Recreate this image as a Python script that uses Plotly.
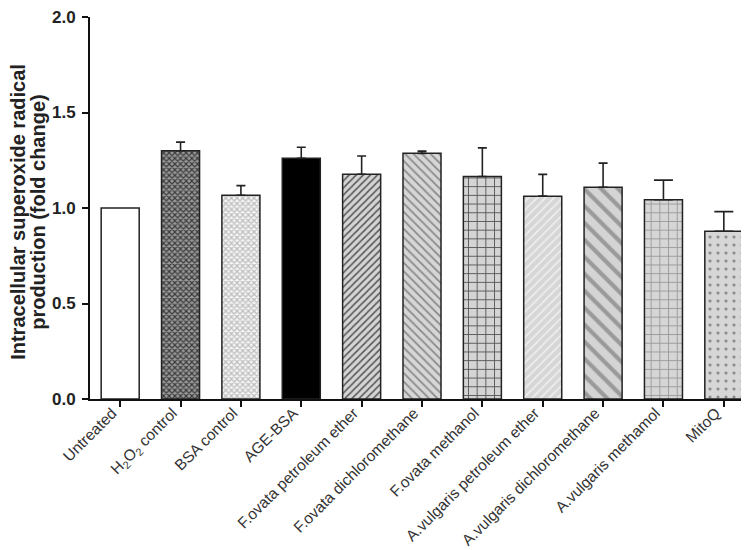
import plotly.graph_objects as go

categories = ["Untreated", "H<sub>2</sub>O<sub>2</sub> control", "BSA control", "AGE-BSA",
              "F.ovata petroleum ether", "F.ovata dichloromethane", "F.ovata methanol",
              "A.vulgaris petroleum ether", "A.vulgaris dichloromethane",
              "A.vulgaris methamol", "MitoQ"]
values = [1.00, 1.30, 1.067, 1.26, 1.177, 1.286, 1.165, 1.062, 1.109, 1.043, 0.878]
errors = [0.0, 0.045, 0.05, 0.058, 0.095, 0.012, 0.15, 0.114, 0.126, 0.103, 0.103]
y_title_lines = ["Intracellular superoxide radical", "production (fold change)"]

pat_shape = ["", "x", "x", "", "/", "\\", "+", "/", "\\", "+", "."]
pat_fg = ["#000000", "#3a3a3a", "#bdbdbd", "#000000", "#555555", "#8a8a8a",
          "#555555", "#eeeeee", "#9a9a9a", "#9a9a9a", "#8a8a8a"]
pat_bg = ["#ffffff", "#9a9a9a", "#f4f4f4", "#000000", "#d4d4d4", "#d6d6d6",
          "#d4d4d4", "#d6d6d6", "#d4d4d4", "#d6d6d6", "#d6d6d6"]
pat_size = [6, 4, 4, 6, 5, 6, 8.7, 6, 12, 8.7, 8]
pat_sol = [0.3, 0.5, 0.5, 0.3, 0.3, 0.3, 0.2, 0.3, 0.35, 0.2, 0.12]

x = list(range(len(categories)))

fig = go.Figure()
for i in x:
    pattern = dict(shape=pat_shape[i], fgcolor=pat_fg[i], bgcolor=pat_bg[i],
                   size=pat_size[i], solidity=pat_sol[i], fillmode="replace")
    fig.add_trace(go.Bar(
        x=[x[i]], y=[values[i]], width=0.63,
        marker=dict(color=pat_bg[i], line=dict(color="#222222", width=1.5),
                    pattern=pattern if pat_shape[i] else None),
        hoverinfo="skip", showlegend=False))

# error bars (upper only); narrower caps for first nine, wider for last two
for idx, w in [(list(range(0, 9)), 4.5), (list(range(9, 11)), 9.5)]:
    xs = [x[i] for i in idx if errors[i] > 0]
    ys = [values[i] for i in idx if errors[i] > 0]
    es = [errors[i] for i in idx if errors[i] > 0]
    fig.add_trace(go.Scatter(
        x=xs, y=ys, mode="markers",
        marker=dict(size=1, color="rgba(0,0,0,0)"),
        error_y=dict(type="data", array=es, arrayminus=[0] * len(es), symmetric=False,
                     color="#222222", thickness=1.6, width=w),
        hoverinfo="skip", showlegend=False))

# y-axis title as two rotated lines
for line, xs in zip(y_title_lines, [-72, -52]):
    fig.add_annotation(text=line, xref="paper", yref="paper", x=0, y=0.49,
                       xshift=xs, textangle=-90, showarrow=False,
                       xanchor="center", yanchor="middle", borderpad=0,
                       font=dict(size=20, color="#222222", weight="bold"))

fig.update_layout(
    width=749, height=550, barmode="overlay",
    margin=dict(l=82, r=3, t=9, b=159),
    plot_bgcolor="white", paper_bgcolor="white",
    font=dict(family="Arial, Liberation Sans, sans-serif", color="#222222"),
    xaxis=dict(
        tickmode="array", tickvals=x, ticktext=categories, tickangle=-45,
        range=[-0.5, 10.5], showgrid=False, zeroline=False,
        showline=True, linecolor="#111111", linewidth=2,
        ticks="outside", ticklen=6, tickwidth=2, tickcolor="#111111",
        tickfont=dict(size=15.5, color="#333333"), automargin=False,
        ticklabelshift=-8, ticklabelstandoff=-9),
    yaxis=dict(
        range=[0, 2], tickmode="linear", tick0=0, dtick=0.5, tickformat=".1f",
        showgrid=False, zeroline=False,
        showline=True, linecolor="#111111", linewidth=2,
        ticks="outside", ticklen=6, tickwidth=2, tickcolor="#111111",
        tickfont=dict(size=17, color="#222222", weight="bold"),
        ticklabelstandoff=3, ticklabeloverflow="allow", automargin=False),
)

fig.write_html("out.html")
